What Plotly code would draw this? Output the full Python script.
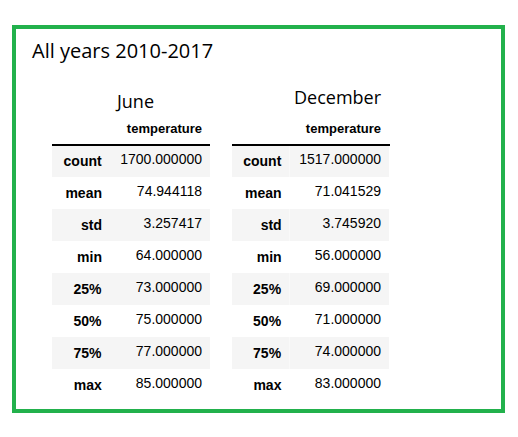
import plotly.graph_objects as go

W, H = 518, 437
OFF = 8  # page body margin

stats = ["count", "mean", "std", "min", "25%", "50%", "75%", "max"]
june_temp = [1700.000000, 74.944118, 3.257417, 64.000000, 73.000000, 75.000000, 77.000000, 85.000000]
dec_temp = [1517.000000, 71.041529, 3.745920, 56.000000, 69.000000, 71.000000, 74.000000, 83.000000]
col_name = "temperature"
title = "All years 2010-2017"
month_names = ["June", "December"]


def px_x(x):
    return (x - OFF) / W


def px_y(y):
    return 1 - (y - OFF) / H


stripe = ["#f5f5f5" if i % 2 == 0 else "white" for i in range(len(stats))]

fig = go.Figure()
tables = [(june_temp, 52, 210), (dec_temp, 232, 390)]
for vals, x0, x1 in tables:
    fig.add_trace(go.Table(
        domain=dict(x=[px_x(x0), px_x(x1)], y=[px_y(402), px_y(113)]),
        columnwidth=[58, 100],
        header=dict(
            values=["", "<b>" + col_name + "</b>"],
            align="right", height=32,
            fill=dict(color="white"), line=dict(color="white", width=0),
            font=dict(family="Arial", size=13, color="black"),
        ),
        cells=dict(
            values=[["<b>" + s + "</b>" for s in stats], [f"{v:.6f}" for v in vals]],
            align="right", height=32,
            fill=dict(color=[stripe, stripe]), line=dict(color="white", width=0),
            font=dict(family="Arial", size=14, color="black"),
        ),
    ))
    fig.add_shape(type="line", xref="paper", yref="paper",
                  x0=px_x(x0), x1=px_x(x1), y0=px_y(145), y1=px_y(145),
                  line=dict(color="black", width=2))

# green frame
fig.add_shape(type="rect", xref="paper", yref="paper",
              x0=px_x(14), x1=px_x(503), y0=px_y(411), y1=px_y(27),
              line=dict(color="#22b14c", width=4))

fig.add_annotation(text=title, x=px_x(30), y=px_y(50), xref="paper", yref="paper",
                   xanchor="left", yanchor="middle", showarrow=False,
                   font=dict(family="Open Sans", size=20, color="black"))
fig.add_annotation(text=month_names[0], x=px_x(134), y=px_y(101), xref="paper", yref="paper",
                   xanchor="center", yanchor="middle", showarrow=False,
                   font=dict(family="Open Sans", size=18, color="black"))
fig.add_annotation(text=month_names[1], x=px_x(338), y=px_y(97), xref="paper", yref="paper",
                   xanchor="center", yanchor="middle", showarrow=False,
                   font=dict(family="Open Sans", size=18, color="black"))

fig.update_layout(width=W, height=H, margin=dict(l=0, r=0, t=0, b=0),
                  paper_bgcolor="white", plot_bgcolor="white")
fig.write_html("out.html")
